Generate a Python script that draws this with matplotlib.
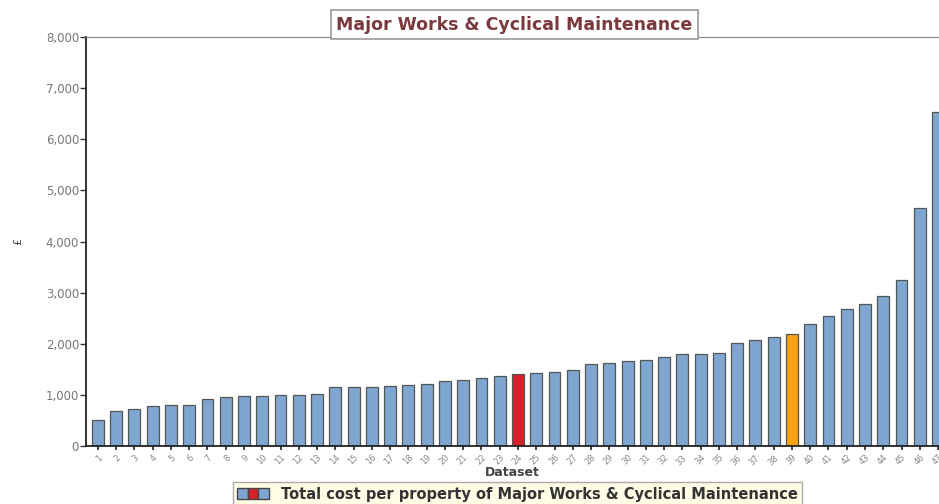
import matplotlib.pyplot as plt
from matplotlib.patches import Patch
from matplotlib.legend_handler import HandlerTuple
from matplotlib.ticker import FuncFormatter

# cost per property for each dataset (sorted ascending)
datasets = list(range(1, 48))
costs = [505, 680, 730, 780, 795, 805, 915, 960, 975, 985,
         1000, 1000, 1025, 1155, 1155, 1150, 1170, 1193, 1205, 1280,
         1300, 1325, 1373, 1412, 1432, 1444, 1483, 1612, 1630, 1657,
         1676, 1735, 1794, 1806, 1820, 2021, 2068, 2139, 2186, 2393,
         2544, 2687, 2773, 2935, 3254, 4658, 6536]
highlight_red = 24
highlight_orange = 39

blue = "#7ea6d0"
red = "#d4212a"
orange = "#f6a312"

colors = []
for d in datasets:
    if d == highlight_red:
        colors.append(red)
    elif d == highlight_orange:
        colors.append(orange)
    else:
        colors.append(blue)

fig = plt.figure(figsize=(9.39, 5.04), dpi=100)
ax = fig.add_axes([0.0916, 0.115, 0.9084, 0.8114])

ax.bar(datasets, costs, width=0.65, color=colors, edgecolor="#555555", linewidth=0.9)

ax.set_xlim(0.35, 47.05)
ax.set_ylim(0, 8000)
ax.set_yticks(range(0, 8001, 1000))
ax.yaxis.set_major_formatter(FuncFormatter(lambda v, p: f"{int(v):,}"))
ax.set_xticks(datasets)
ax.set_xticklabels([str(d) for d in datasets], rotation=45, ha="right",
                   rotation_mode="anchor", fontsize=6, color="#888888")
ax.tick_params(axis="y", labelsize=8.5, labelcolor="#777777", length=4, width=1,
               color="#333333", pad=1)
ax.tick_params(axis="x", length=3, width=1.2, color="#222222", pad=2)

ax.spines["right"].set_visible(False)
ax.spines["top"].set_color("#888888")
ax.spines["left"].set_color("#222222")
ax.spines["bottom"].set_color("#222222")
ax.spines["left"].set_linewidth(1.3)
ax.spines["bottom"].set_linewidth(1.3)

ax.set_xlabel("Dataset", fontsize=9, fontweight="bold", color="#444444", labelpad=-1)
ax.set_ylabel("£", fontsize=8, color="#444444", labelpad=16)

fig.text(0.548, 0.951, "Major Works & Cyclical Maintenance", ha="center", va="center",
         fontsize=12.5, fontweight="bold", color="#7a3a3d",
         bbox=dict(boxstyle="square,pad=0.3", facecolor="white", edgecolor="#999999", linewidth=1.2))

handle = (Patch(facecolor=blue, edgecolor="#444444"),
          Patch(facecolor=red, edgecolor="#444444"),
          Patch(facecolor=blue, edgecolor="#444444"))
leg = fig.legend([handle], ["Total cost per property of Major Works & Cyclical Maintenance"],
                 handler_map={tuple: HandlerTuple(ndivide=None, pad=0)},
                 loc="upper center", bbox_to_anchor=(0.551, 0.043), ncol=1,
                 fancybox=False, framealpha=1, edgecolor="#aaaaaa",
                 prop=dict(size=10.5, weight="bold"), handlelength=2.2,
                 borderpad=0.3, handletextpad=0.8, borderaxespad=0)
leg.get_frame().set_facecolor("#fffde6")
for t in leg.get_texts():
    t.set_color("#333333")

fig.savefig("out.png", dpi=100)
